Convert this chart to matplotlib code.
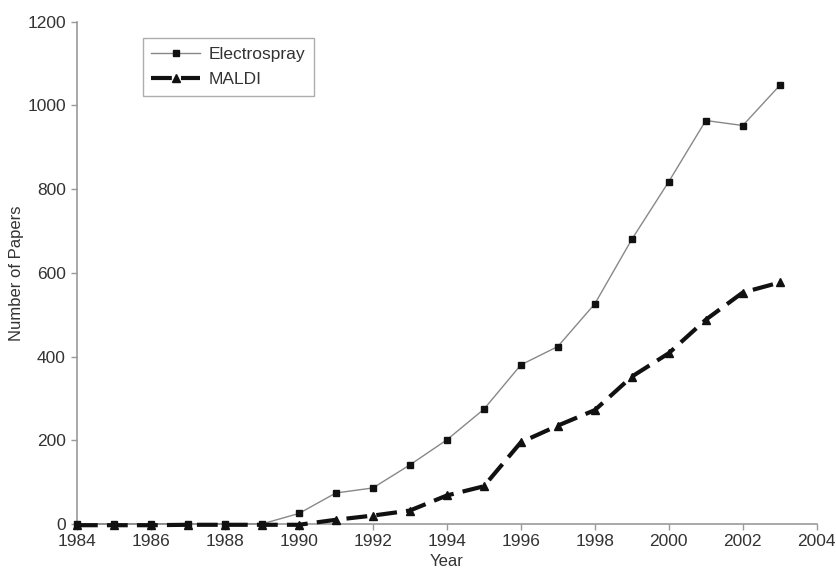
import matplotlib.pyplot as plt

plt.rcParams['font.family'] = ['Liberation Sans', 'DejaVu Sans']

# Dados
years = list(range(1984, 2004))
electrospray = [0, 0, 0, 0, 0, 0, 25, 74, 86, 141, 201, 274, 380, 424, 526, 680, 818, 964, 952, 1048]
maldi = [-3, -3, -3, -2, -2, -2, -2, 10, 20, 32, 68, 90, 195, 235, 272, 352, 408, 488, 553, 577]

fig = plt.figure(figsize=(8.36, 5.72), dpi=100)
ax = fig.add_axes([0.092, 0.084, 0.885, 0.878])

ax.plot(years, electrospray, color='#888888', lw=1.0, marker='s', ms=5,
        mfc='#111111', mec='#111111', label='Electrospray', clip_on=False, zorder=3)
ax.plot(years, maldi, color='#111111', lw=3.0, dashes=(5, 2.2), marker='^', ms=6,
        mfc='#111111', mec='#111111', label='MALDI', clip_on=False, zorder=3)

ax.set_xlim(1984, 2004)
ax.set_ylim(0, 1200)
ax.set_xticks(range(1984, 2005, 2))
ax.set_yticks(range(0, 1201, 200))

for s in ['top', 'right']:
    ax.spines[s].set_visible(False)
for s in ['left', 'bottom']:
    ax.spines[s].set_color('#999999')
    ax.spines[s].set_linewidth(1.2)
ax.tick_params(colors='#999999', labelcolor='#333333', labelsize=12.5, length=4, width=1.0)
ax.tick_params(axis='y', pad=4)

ax.set_xlabel('Year', fontsize=12, color='#333333', labelpad=3)
ax.set_ylabel('Number of Papers', fontsize=12, color='#333333')
ax.yaxis.set_label_coords(-0.071, 0.5)

leg = ax.legend(loc='upper left', bbox_to_anchor=(0.077, 0.985), fontsize=12.5,
                frameon=True, fancybox=False, handlelength=2.8, handletextpad=0.5,
                borderpad=0.5, labelspacing=0.6)
leg.get_frame().set_edgecolor('#999999')
leg.get_frame().set_linewidth(1.0)
for t in leg.get_texts():
    t.set_color('#333333')

fig.savefig('out.png', dpi=100)
